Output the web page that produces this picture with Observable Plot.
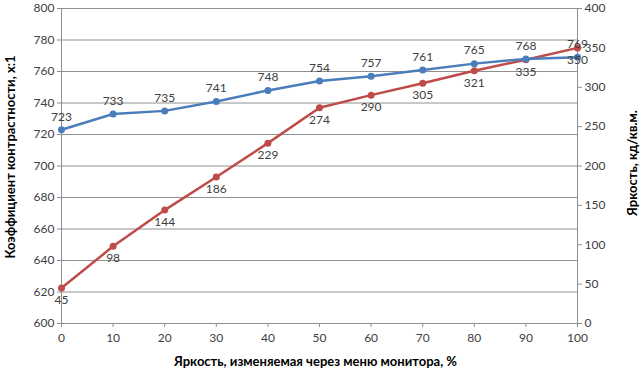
<!DOCTYPE html>
<html><head><meta charset="utf-8">
<script src="https://cdn.jsdelivr.net/npm/d3@7"></script>
<script src="https://cdn.jsdelivr.net/npm/@observablehq/plot@0.6"></script>
<style>
body{margin:0;background:#fff;}
#c{width:640px;height:384px;}
</style>
</head><body><div id="c"></div>
<script>
const brightnessSetting = [0,10,20,30,40,50,60,70,80,90,100];
const contrast = [723,733,735,741,748,754,757,761,765,768,769];
const luminance = [45,98,144,186,229,274,290,305,321,335,350];
const leftTicks = [600,620,640,660,680,700,720,740,760,780,800];
const rightTicks = [0,50,100,150,200,250,300,350,400];
const xTicks = [0,10,20,30,40,50,60,70,80,90,100];

// right axis (0..400) mapped onto left scale (600..800)
const toLeft = v => 600 + v/2;
const fromLeft = d => (d-600)*2;

const blue = brightnessSetting.map((x,i)=>({x, y:contrast[i], label:String(contrast[i])}));
const red = brightnessSetting.map((x,i)=>({x, y:toLeft(luminance[i]), label:String(luminance[i])}));

const blueC = "#4a7ebb", redC = "#be4b48";
const font = "Lato, 'Open Sans', 'DejaVu Sans', sans-serif";

const chart = Plot.plot({
  width:640, height:384,
  marginLeft:61, marginRight:63, marginTop:8, marginBottom:61,
  style:{fontFamily:font, fontSize:"12px", color:"#404040", background:"#fff"},
  x:{domain:[0,100]},
  y:{domain:[600,800]},
  marks:[
    Plot.gridY(leftTicks, {stroke:"#8f8f8f", strokeOpacity:1, strokeWidth:1}),
    Plot.axisY(leftTicks, {anchor:"left", tickSize:4, tickPadding:3, stroke:"#8f8f8f", label:null, fill:"#404040", fontSize:12}),
    Plot.axisY(rightTicks.map(toLeft), {anchor:"right", tickSize:4, tickPadding:3, tickFormat:fromLeft, stroke:"#8f8f8f", label:null, fill:"#404040", fontSize:12}),
    Plot.axisX(xTicks, {anchor:"bottom", tickSize:4, tickPadding:6, stroke:"#8f8f8f", label:null, fill:"#404040", fontSize:12}),
    Plot.ruleX([0,100], {stroke:"#8f8f8f"}),
    Plot.ruleY([600], {stroke:"#8f8f8f"}),
    Plot.line(red, {x:"x", y:"y", stroke:redC, strokeWidth:2.5}),
    Plot.dot(red, {x:"x", y:"y", fill:redC, r:3.5}),
    Plot.line(blue, {x:"x", y:"y", stroke:blueC, strokeWidth:2.5}),
    Plot.dot(blue, {x:"x", y:"y", fill:blueC, r:3.5}),
    Plot.text(blue, {x:"x", y:"y", text:"label", dy:-13, fill:"#404040", fontSize:12}),
    Plot.text(red, {x:"x", y:"y", text:"label", dy:12, fill:"#404040", fontSize:12}),
    Plot.text(["Коэффициент контрастности, х:1"], {frameAnchor:"left", textAnchor:"middle", dx:-51, dy:-9, rotate:-90, fontWeight:"bold", fontSize:13, fill:"#000"}),
    Plot.text(["Яркость, кд/кв.м."], {frameAnchor:"right", textAnchor:"middle", dx:55, dy:-3, rotate:-90, fontWeight:"bold", fontSize:13, fill:"#000"}),
    Plot.text(["Яркость, изменяемая через меню монитора, %"], {frameAnchor:"bottom", dx:-4, dy:42, fontWeight:"bold", fontSize:13, fill:"#000"})
  ]
});
document.getElementById("c").appendChild(chart);
</script>
</body></html>
